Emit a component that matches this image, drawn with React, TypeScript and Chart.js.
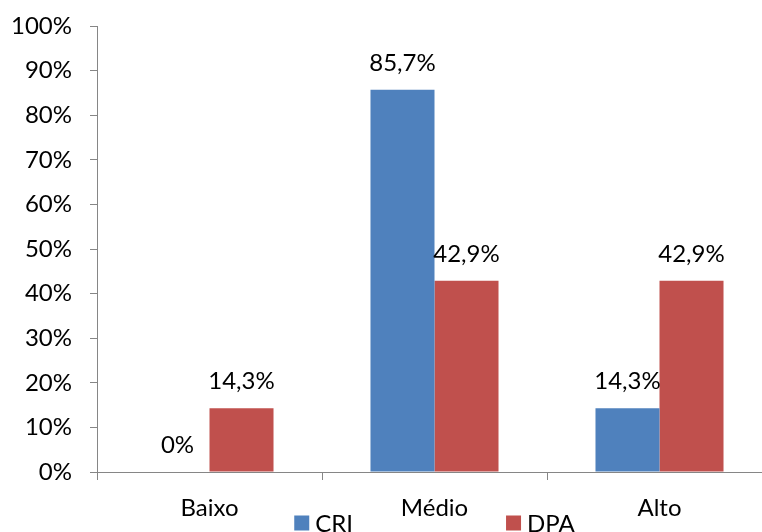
import React, { useEffect, useRef } from "react";
import { Chart, registerables } from "chart.js";

Chart.register(...registerables);

const categories = ["Baixo", "Médio", "Alto"];
const seriesNames = ["CRI", "DPA"];
const criValues = [0, 85.7, 14.3];
const dpaValues = [14.3, 42.9, 42.9];
const seriesColors = ["#4F81BD", "#C0504D"];
const FONT = "Lato, 'Open Sans', sans-serif";
const FONT_SIZE = 24;

const fmt = (v: number) => (v === 0 ? "0%" : v.toFixed(1).replace(".", ",") + "%");

const dataLabelPlugin = {
  id: "dataLabels",
  afterDatasetsDraw(chart: any) {
    const ctx = chart.ctx;
    ctx.save();
    ctx.font = `${FONT_SIZE}px ${FONT}`;
    ctx.fillStyle = "#000";
    ctx.textAlign = "center";
    ctx.textBaseline = "middle";
    chart.data.datasets.forEach((ds: any, di: number) => {
      const meta = chart.getDatasetMeta(di);
      meta.data.forEach((bar: any, i: number) => {
        ctx.fillText(fmt(ds.data[i]), bar.x, bar.y - 26.5);
      });
    });
    ctx.restore();
  },
};

const legendPlugin = {
  id: "customLegend",
  afterDraw(chart: any) {
    const ctx = chart.ctx;
    const area = chart.chartArea;
    ctx.save();
    ctx.font = `${FONT_SIZE}px ${FONT}`;
    const box = 15;
    const gap = 6;
    const spacing = 153;
    const widths = seriesNames.map((n) => box + gap + ctx.measureText(n).width);
    const total = widths.reduce((a, b) => a + b, 0) + spacing * (widths.length - 1);
    let x = (area.left + area.right) / 2 - total / 2;
    const y = 523;
    seriesNames.forEach((n, i) => {
      ctx.fillStyle = seriesColors[i];
      ctx.fillRect(x, y - box / 2, box, box);
      ctx.fillStyle = "#000";
      ctx.textAlign = "left";
      ctx.textBaseline = "middle";
      ctx.fillText(n, x + box + gap, y + 1);
      x += widths[i] + spacing;
    });
    ctx.restore();
  },
};

export default function App() {
  const ref = useRef<HTMLCanvasElement>(null);
  useEffect(() => {
    if (!ref.current) return;
    const chart = new Chart(ref.current, {
      type: "bar",
      data: {
        labels: categories,
        datasets: [
          { label: seriesNames[0], data: criValues, backgroundColor: seriesColors[0], categoryPercentage: 0.569, barPercentage: 1 },
          { label: seriesNames[1], data: dpaValues, backgroundColor: seriesColors[1], categoryPercentage: 0.569, barPercentage: 1 },
        ],
      },
      options: {
        responsive: false,
        animation: false,
        devicePixelRatio: 1,
        layout: { padding: { top: 26, right: 18, bottom: 0, left: 0 } },
        plugins: { legend: { display: false }, tooltip: { enabled: false } },
        scales: {
          x: {
            offset: true,
            grid: { offset: true, drawOnChartArea: false, drawTicks: true, tickLength: 8, color: "#868686" },
            border: { display: true, color: "#868686" },
            ticks: { color: "#000", font: { family: FONT, size: FONT_SIZE }, padding: 14, maxRotation: 0 },
            afterFit: (s: any) => { s.height = 60; s.paddingLeft = 0; s.paddingRight = 0; },
          },
          y: {
            min: 0,
            max: 100,
            grid: { drawOnChartArea: false, drawTicks: true, tickLength: 7, color: "#868686" },
            border: { display: true, color: "#868686" },
            ticks: { stepSize: 10, color: "#000", font: { family: FONT, size: FONT_SIZE }, padding: 18, callback: (v: any) => v + "%" },
            afterFit: (s: any) => { s.width = 97; s.paddingTop = 0; s.paddingBottom = 0; },
          },
        },
      },
      plugins: [dataLabelPlugin, legendPlugin],
    });
    return () => chart.destroy();
  }, []);
  return (
    <div style={{ position: "fixed", left: 0, top: 0, width: 762, height: 532, overflow: "hidden", background: "#fff" }}>
      <canvas ref={ref} width={790} height={532} style={{ display: "block" }} />
    </div>
  );
}
